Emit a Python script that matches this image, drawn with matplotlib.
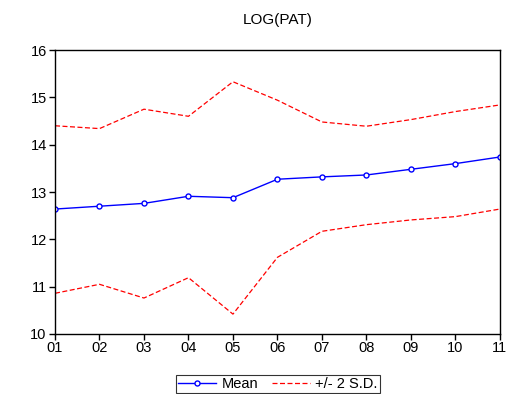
import numpy as np
import matplotlib.pyplot as plt

plt.rcParams['font.family'] = ['Liberation Sans', 'DejaVu Sans']

# Data
periods = ['01', '02', '03', '04', '05', '06', '07', '08', '09', '10', '11']
mean = [12.64, 12.70, 12.76, 12.91, 12.88, 13.27, 13.32, 13.36, 13.48, 13.60, 13.74]
upper = [14.40, 14.34, 14.75, 14.60, 15.33, 14.94, 14.48, 14.39, 14.53, 14.70, 14.84]
lower = [10.86, 11.05, 10.76, 11.19, 10.42, 11.62, 12.17, 12.31, 12.41, 12.48, 12.64]

x = np.arange(len(periods))

fig = plt.figure(figsize=(5.18, 3.94), dpi=100)
ax = fig.add_axes([0.1062, 0.1523, 0.8588, 0.7207])

ax.plot(x, mean, color='#0000ff', lw=1, marker='o', ms=3.6, mfc='white',
        mec='#0000ff', mew=1, label='Mean')
ax.plot(x, upper, color='#ff0000', lw=0.9, ls=(0, (4, 2)), label='+/- 2 S.D.')
ax.plot(x, lower, color='#ff0000', lw=0.9, ls=(0, (4, 2)))

ax.set_xlim(0, len(periods) - 1)
ax.set_ylim(10, 16)
ax.set_xticks(x)
ax.set_xticklabels(periods)
ax.set_yticks(range(10, 17))
ax.tick_params(direction='out', length=4, width=1, labelsize=10.5, pad=2)
ax.tick_params(axis='x', pad=1)
for s in ax.spines.values():
    s.set_linewidth(1)
ax.set_title('LOG(PAT)', fontsize=11, pad=19)

leg = fig.legend(loc='center', bbox_to_anchor=(278 / 518, 1 - 384 / 394), ncol=2,
                 fontsize=10.5, frameon=True, fancybox=False, edgecolor='black',
                 handlelength=2.6, handletextpad=0.4, columnspacing=0.9,
                 borderpad=0.15, borderaxespad=0)
leg.get_frame().set_linewidth(0.8)

fig.savefig('out.png', dpi=100)
